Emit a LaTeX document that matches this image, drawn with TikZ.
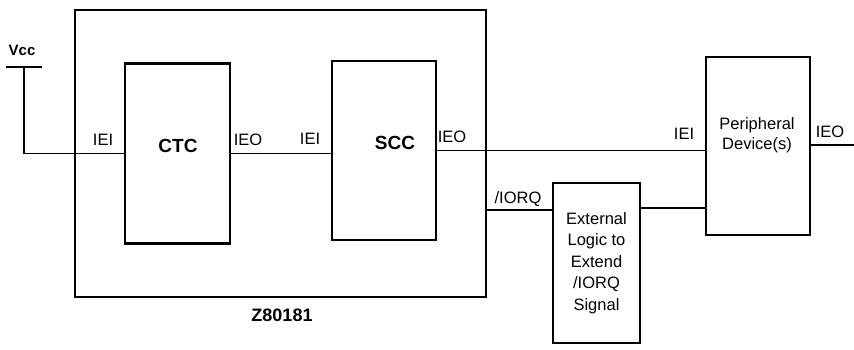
\documentclass[tikz,border=0pt]{standalone}
\usepackage{fontspec}
\setmainfont{Liberation Sans}
\begin{document}
\begin{tikzpicture}[x=1pt,y=-1pt,
  chip/.style={draw, line width=2.4pt, inner sep=0pt, outer sep=0pt},
  frame/.style={draw, line width=1.2pt, inner sep=0pt, outer sep=0pt},
  wire/.style={line width=1.3pt},
  lbl/.style={inner sep=0pt, font=\fontsize{16.5}{20}\selectfont},
  big/.style={inner sep=0pt, font=\fontsize{19}{22}\selectfont\bfseries}]
\useasboundingbox (0,0) rectangle (854,349);
% boxes
\node[frame, minimum width=411pt, minimum height=287pt] (outer) at (280.5,153.5) {};
\node[chip, minimum width=105pt, minimum height=180pt] (ctc) at (177.5,153.5) {};
\node[chip, minimum width=104pt, minimum height=179pt] (scc) at (384,150.5) {};
\node[chip, minimum width=104pt, minimum height=178pt] (per) at (758,146) {};
\node[chip, minimum width=87pt, minimum height=160pt, align=center,
      font=\fontsize{16.5}{21.5}\selectfont] (ext) at (596.5,263)
      {External\\Logic to\\Extend\\/IORQ\\Signal};
% box texts
\node[big] (ctct) at (178,146) {CTC};
\node[big] (scct) at (395,143) {SCC};
\node[lbl, align=center] (pert) at (757,135) {Peripheral\\Device(s)};
\node[big, font=\fontsize{18}{22}\selectfont\bfseries] (chipname) at (282,315) {Z80181};
% Vcc
\node[inner sep=0pt, font=\fontsize{15}{18}\selectfont\bfseries] (vcc) at (22,50) {Vcc};
\coordinate (vl) at (6,67);
\coordinate (vr) at (42,67);
\coordinate (vt) at (24,67);
\draw[wire] (vl) -- (vr);
\draw[wire] (vt) |- (ctc.west);
% pin labels
\node[lbl] (ctciei) at (103,140) {IEI};
\node[lbl] (ctcieo) at (248,140) {IEO};
\node[lbl] (scciei) at (310,139) {IEI};
\node[lbl] (sccieo) at (452,137) {IEO};
\node[lbl] (periei) at (684,134) {IEI};
\node[lbl] (perieo) at (830,132) {IEO};
\node[lbl] (iorqt) at (518,199) {/IORQ};
% wires
\draw[wire] (ctc.east) -- (ctc.east -| scc.west);
\draw[wire] (scc.east) -- (scc.east -| per.west);
\coordinate (out) at (854,145);
\draw[wire] (per.east |- out) -- (out);
\coordinate (iorq) at (486,210);
\draw[wire] (iorq) -- (iorq -| ext.west);
\coordinate (xo) at (640,208);
\draw[wire] (xo) -- (xo -| per.west);
\end{tikzpicture}
\end{document}
